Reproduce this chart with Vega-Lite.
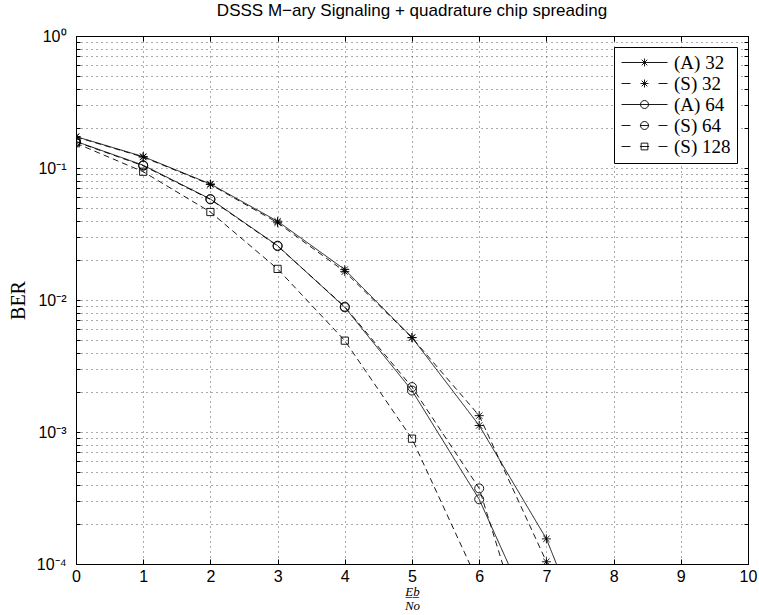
{
  "$schema": "https://vega.github.io/schema/vega-lite/v6.json",
  "width": 672,
  "height": 528,
  "autosize": "none",
  "padding": {"left": 76, "top": 36, "right": 11, "bottom": 51},
  "background": "white",
  "title": {"text": "DSSS M−ary Signaling + quadrature chip spreading", "font": "Liberation Sans", "fontSize": 17, "fontWeight": "normal", "color": "black", "offset": 8, "anchor": "middle"},
  "config": {
    "view": {"stroke": "black", "strokeWidth": 1},
    "axis": {"domainColor": "black", "tickColor": "black", "labelColor": "black", "titleColor": "black", "labelFlush": false, "labelOverlap": false, "gridColor": "#444444", "gridDash": [1, 4], "gridWidth": 0.9, "gridOpacity": 1},
    "legend": {"orient": "top-right", "offset": 11, "padding": 6, "strokeColor": "black", "fillColor": "white", "cornerRadius": 0,
      "labelFont": "Liberation Serif", "labelFontSize": 19, "labelColor": "black", "labelOffset": 35, "symbolSize": 256, "rowPadding": 1,
      "symbolStrokeColor": "black", "symbolStrokeWidth": 0.9, "symbolFillColor": "transparent", "symbolOpacity": 1}
  },
  "data": {"values": [
    {"series": "(A) 32", "x": 0, "ber": 0.173},
    {"series": "(A) 32", "x": 1, "ber": 0.122},
    {"series": "(A) 32", "x": 2, "ber": 0.0757},
    {"series": "(A) 32", "x": 3, "ber": 0.0395},
    {"series": "(A) 32", "x": 4, "ber": 0.0170},
    {"series": "(A) 32", "x": 5, "ber": 0.00520},
    {"series": "(A) 32", "x": 6, "ber": 0.00112},
    {"series": "(A) 32", "x": 7, "ber": 0.000155},
    {"series": "(A) 32", "x": 8, "ber": 0.0000083},
    {"series": "(S) 32", "x": 0, "ber": 0.172},
    {"series": "(S) 32", "x": 1, "ber": 0.121},
    {"series": "(S) 32", "x": 2, "ber": 0.0750},
    {"series": "(S) 32", "x": 3, "ber": 0.0385},
    {"series": "(S) 32", "x": 4, "ber": 0.0164},
    {"series": "(S) 32", "x": 5, "ber": 0.00518},
    {"series": "(S) 32", "x": 6, "ber": 0.00133},
    {"series": "(S) 32", "x": 7, "ber": 0.000104},
    {"series": "(S) 32", "x": 8, "ber": 0.000005},
    {"series": "(A) 64", "x": 0, "ber": 0.159},
    {"series": "(A) 64", "x": 1, "ber": 0.105},
    {"series": "(A) 64", "x": 2, "ber": 0.0582},
    {"series": "(A) 64", "x": 3, "ber": 0.0258},
    {"series": "(A) 64", "x": 4, "ber": 0.0088},
    {"series": "(A) 64", "x": 5, "ber": 0.00206},
    {"series": "(A) 64", "x": 6, "ber": 0.000309},
    {"series": "(A) 64", "x": 7, "ber": 0.000023},
    {"series": "(S) 64", "x": 0, "ber": 0.158},
    {"series": "(S) 64", "x": 1, "ber": 0.104},
    {"series": "(S) 64", "x": 2, "ber": 0.0578},
    {"series": "(S) 64", "x": 3, "ber": 0.0256},
    {"series": "(S) 64", "x": 4, "ber": 0.0089},
    {"series": "(S) 64", "x": 5, "ber": 0.00219},
    {"series": "(S) 64", "x": 6, "ber": 0.000374},
    {"series": "(S) 64", "x": 7, "ber": 0.0000085},
    {"series": "(S) 128", "x": 0, "ber": 0.154},
    {"series": "(S) 128", "x": 1, "ber": 0.0937},
    {"series": "(S) 128", "x": 2, "ber": 0.0464},
    {"series": "(S) 128", "x": 3, "ber": 0.0172},
    {"series": "(S) 128", "x": 4, "ber": 0.00492},
    {"series": "(S) 128", "x": 5, "ber": 0.00089},
    {"series": "(S) 128", "x": 6, "ber": 0.00007}
  ]},
  "layer": [
    {
      "mark": {"type": "line", "clip": true, "color": "black", "strokeWidth": 0.9},
      "encoding": {
        "x": {"field": "x", "type": "quantitative", "scale": {"domain": [0, 10], "nice": false},
          "axis": {"orient": "bottom", "values": [0, 1, 2, 3, 4, 5, 6, 7, 8, 9, 10], "format": "d", "tickSize": -5, "labelFont": "Liberation Sans", "labelFontSize": 16, "labelPadding": 9, "grid": true,
            "title": ["E̲b̲", "No"], "titleFont": "Liberation Serif", "titleFontStyle": "italic", "titleFontWeight": "normal", "titleFontSize": 13, "titleLineHeight": 14, "titlePadding": 1}},
        "y": {"field": "ber", "type": "quantitative", "scale": {"type": "log", "domain": [0.0001, 1], "nice": false},
          "axis": {"orient": "left", "values": [1, 0.9, 0.8, 0.7, 0.6, 0.5, 0.4, 0.3, 0.2, 0.1, 0.09, 0.08, 0.07, 0.06, 0.05, 0.04, 0.03, 0.02, 0.01, 0.009, 0.008, 0.007, 0.006, 0.005, 0.004, 0.003, 0.002, 0.001, 0.0009, 0.0008, 0.0007, 0.0006, 0.0005, 0.0004, 0.0003, 0.0002, 0.0001],
            "labelExpr": "datum.value == 1 ? '10⁰' : datum.value == 0.1 ? '10⁻¹' : datum.value == 0.01 ? '10⁻²' : datum.value == 0.001 ? '10⁻³' : datum.value == 0.0001 ? '10⁻⁴' : ''",
            "tickSize": -4, "labelFont": "Liberation Sans", "labelFontSize": 16, "labelPadding": 14, "grid": true,
            "title": "BER", "titleFont": "Liberation Serif", "titleFontWeight": "normal", "titleFontSize": 20, "titlePadding": 8}},
        "detail": {"field": "series", "type": "nominal"},
        "strokeDash": {"condition": {"test": "indexof(datum.series, '(S)') == 0", "value": [6, 4]}, "value": [1, 0]}
      }
    },
    {
      "mark": {"type": "point", "clip": true, "filled": false, "stroke": "black", "strokeWidth": 0.9, "size": 81, "opacity": 1},
      "encoding": {
        "x": {"field": "x", "type": "quantitative",
          "axis": {"orient": "top", "values": [0, 1, 2, 3, 4, 5, 6, 7, 8, 9, 10], "labels": false, "tickSize": -5, "grid": false, "title": null}},
        "y": {"field": "ber", "type": "quantitative",
          "axis": {"orient": "right", "values": [1, 0.9, 0.8, 0.7, 0.6, 0.5, 0.4, 0.3, 0.2, 0.1, 0.09, 0.08, 0.07, 0.06, 0.05, 0.04, 0.03, 0.02, 0.01, 0.009, 0.008, 0.007, 0.006, 0.005, 0.004, 0.003, 0.002, 0.001, 0.0009, 0.0008, 0.0007, 0.0006, 0.0005, 0.0004, 0.0003, 0.0002, 0.0001], "labels": false, "tickSize": -4, "grid": false, "title": null}},
        "shape": {"field": "series", "type": "nominal",
          "scale": {"domain": ["(A) 32", "(S) 32", "(A) 64", "(S) 64", "(S) 128"],
            "range": ["M-1,0L1,0M0,-1L0,1M-0.7,-0.7L0.7,0.7M-0.7,0.7L0.7,-0.7", "M-1,0L1,0M0,-1L0,1M-0.7,-0.7L0.7,0.7M-0.7,0.7L0.7,-0.7", "M1,0A1,1,0,1,1,-1,0A1,1,0,1,1,1,0", "M1,0A1,1,0,1,1,-1,0A1,1,0,1,1,1,0", "M-0.8,-0.8L0.8,-0.8L0.8,0.8L-0.8,0.8Z"]},
          "legend": null}
      }
    },
    {
      "transform": [{"filter": "false"}],
      "mark": {"type": "point", "filled": false, "stroke": "black", "strokeWidth": 0.9, "size": 256, "opacity": 1},
      "encoding": {
        "shape": {"field": "series", "type": "nominal",
          "scale": {"domain": ["(A) 32", "(S) 32", "(A) 64", "(S) 64", "(S) 128"],
            "range": [
              "M-1,0L4.75,0M1.875,-0.5L1.875,0.5M1.525,-0.35L2.225,0.35M1.525,0.35L2.225,-0.35",
              "M-1,0L0.125,0M3.625,0L4.75,0M1.375,0L2.375,0M1.875,-0.5L1.875,0.5M1.525,-0.35L2.225,0.35M1.525,0.35L2.225,-0.35",
              "M-1,0L4.75,0M2.375,0A0.5,0.5,0,1,1,1.375,0A0.5,0.5,0,1,1,2.375,0",
              "M-1,0L0.125,0M3.625,0L4.75,0M1.3,0L2.45,0M2.375,0A0.5,0.5,0,1,1,1.375,0A0.5,0.5,0,1,1,2.375,0",
              "M-1,0L0.125,0M3.625,0L4.75,0M1.3,0L2.45,0M1.455,-0.42L2.295,-0.42L2.295,0.42L1.455,0.42Z"]},
          "legend": {"title": null}}
      }
    }
  ],
  "resolve": {"axis": {"x": "independent", "y": "independent"}, "scale": {"shape": "independent"}, "legend": {"shape": "independent"}}
}
